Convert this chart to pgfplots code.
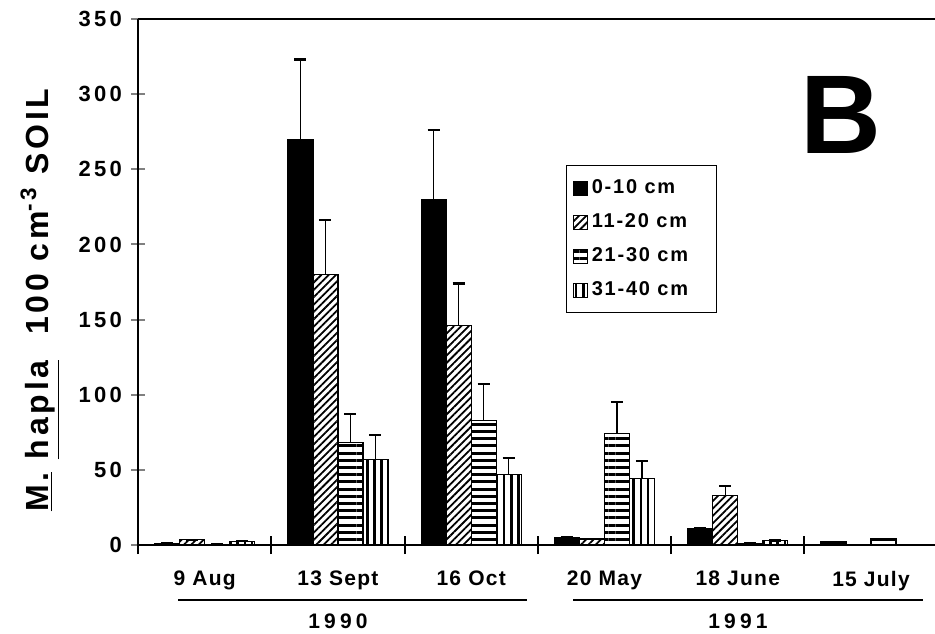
\documentclass[border=0pt]{standalone}
\usepackage{fontspec}
\setmainfont{Liberation Sans}
\newfontfamily\spa{Liberation Sans}[LetterSpace=15]
\newfontfamily\spb{Liberation Sans}[LetterSpace=6]
\newfontfamily\spc{Liberation Sans}[LetterSpace=12]
\newfontfamily\spd{Liberation Sans}[LetterSpace=20]
\newfontfamily\spe{Liberation Sans}[LetterSpace=9]
\usepackage{pgfplots}
\usepackage{pgfplotstable}
\pgfplotsset{compat=1.18}
\usetikzlibrary{patterns.meta}

\pgfplotstableread{
x    a    ea   b    eb   c    ec   d    ed
0.5  1    0    3.5  0    0.5  0    2.5  0
1.5  270  53   180  36   68   19   57   16
2.5  230  46   146  28   83   24   47   11
3.5  5    0    4    0    74   21   44   12
4.5  11   0    33   6    1    0    3    0
5.5  2    0    0    0    4    0    0    0
}\data

\pgfplotsset{
  sqleg/.style={legend image code/.code={\draw[##1,line width=0.6pt] (0pt,-3.5pt) rectangle (7pt,3.5pt);}},
}

\begin{document}
\begin{tikzpicture}[x=0.5pt,y=0.5pt]
\useasboundingbox (0,0) rectangle (935,633);
\begin{axis}[
  at={(69pt,44pt)}, anchor=south west,
  scale only axis, width=398.5pt, height=263pt,
  xmin=0, xmax=5.98, ymin=0, ymax=350,
  axis lines=left, axis line style={-, line width=1pt},
  ybar=0pt, bar width=12.5pt,
  ytick={0,50,...,350},
  yticklabels={0,50,100,150,200,250,300,350},
  yticklabel style={font=\spa\bfseries\fontsize{11}{12}\selectfont, xshift=-1pt},
  ytick style={line width=1pt},
  tick align=center, major tick length=7pt,
  xtick={0.5,1.5,2.5,3.5,4.5,5.5},
  xticklabels={9 Aug,13 Sept,16 Oct,20 May,18 June,15 July},
  xticklabel style={font=\spb\bfseries\fontsize{10.5}{12}\selectfont, yshift=-6pt},
  xtick style={draw=none},
  extra x ticks={0,1,2,3,4,5},
  extra x tick labels={},
  extra x tick style={xtick style={draw=black, line width=1pt}, major tick length=9pt},
  error bars/y dir=plus, error bars/y explicit,
  error bars/error bar style={line width=0.75pt, black},
  error bars/error mark options={rotate=90, line width=1.1pt, mark size=3pt, black},
  legend style={at={(0.537,0.722)}, anchor=north west, draw=black, line width=0.6pt,
    font=\spe\bfseries\fontsize{10}{11}\selectfont, row sep=4.5pt, inner xsep=3pt, inner ysep=5pt,
    legend cell align=left},
  clip=false,
]
\addplot[sqleg, draw=black, line width=0.6pt, fill=black] table[x=x, y=a, y error=ea] {\data};
\addlegendentry{0-10 cm\hspace*{9pt}}
\addplot[sqleg, draw=black, line width=0.6pt, pattern={Lines[angle=45, distance=2.6pt, line width=0.9pt]}, pattern color=black] table[x=x, y=b, y error=eb] {\data};
\addlegendentry{11-20 cm\hspace*{9pt}}
\addplot[sqleg, draw=black, line width=0.6pt, pattern={Lines[angle=0, distance=3.6pt, line width=1.5pt]}, pattern color=black] table[x=x, y=c, y error=ec] {\data};
\addlegendentry{21-30 cm\hspace*{9pt}}
\addplot[sqleg, draw=black, line width=0.6pt, pattern={Lines[angle=90, distance=3.6pt, line width=1.3pt]}, pattern color=black] table[x=x, y=d, y error=ed] {\data};
\addlegendentry{31-40 cm\hspace*{9pt}}
\draw[line width=1pt] (rel axis cs:0,1) -- (rel axis cs:1,1);
\end{axis}
% panel letter
\node[font=\bfseries\fontsize{56}{58}\selectfont] at (841,518) {B};
% y label
\node[rotate=90, font=\spc\bfseries\fontsize{16}{18}\selectfont] at (40,333)
  {\underline{M.} \underline{hapla}\ \ 100 cm\textsuperscript{-3} SOIL};
% year underlines and labels
\draw[line width=0.9pt] (178,33) -- (527,33);
\draw[line width=0.9pt] (573,33) -- (923,33);
\node[font=\spd\bfseries\fontsize{10.5}{12}\selectfont] at (338,12) {1990};
\node[font=\spd\bfseries\fontsize{10.5}{12}\selectfont] at (738,12) {1991};
\end{tikzpicture}
\end{document}
